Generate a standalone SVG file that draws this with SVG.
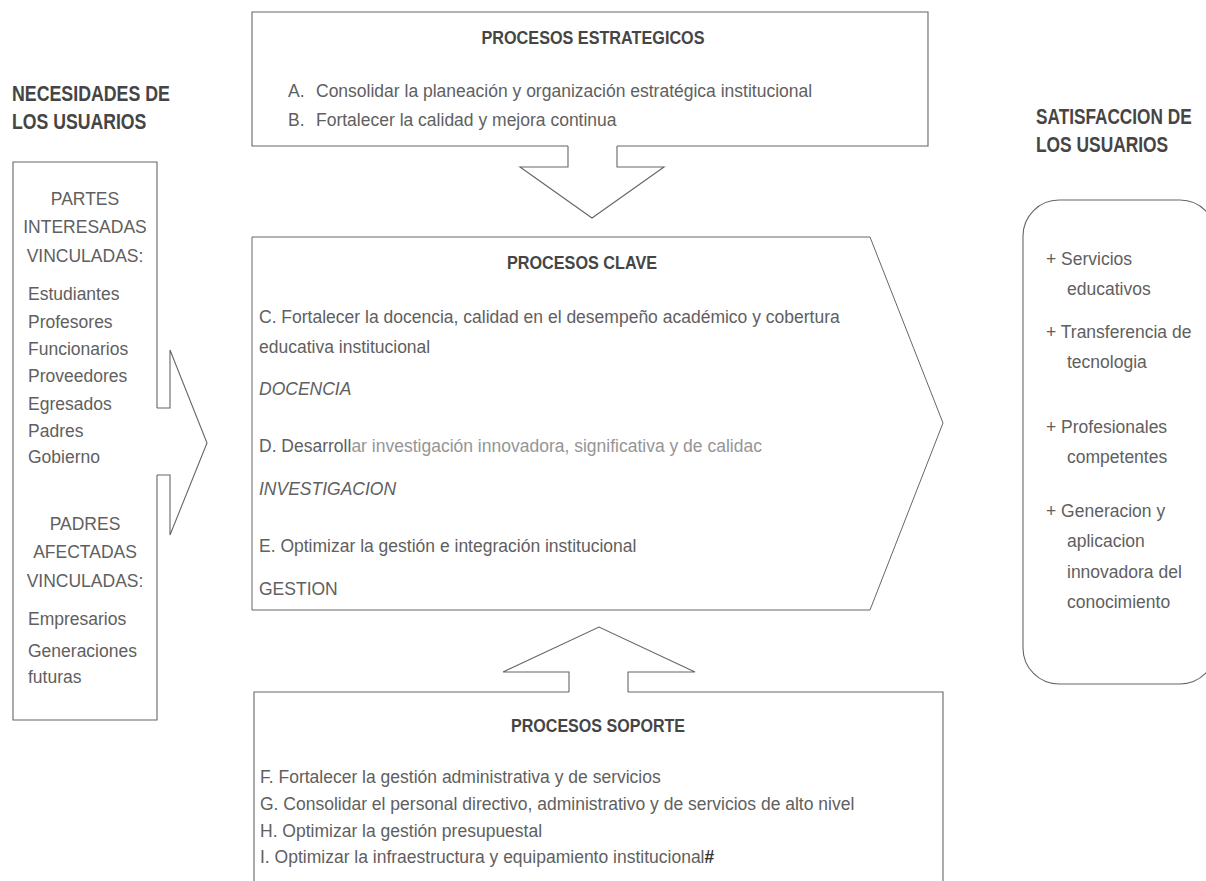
<svg xmlns="http://www.w3.org/2000/svg" width="1206" height="881" viewBox="0 0 1206 881">
<style>
.bg{fill:#ffffff}
.box{fill:#ffffff;stroke:#666666;stroke-width:1.1}
.thin{fill:#ffffff;stroke:#555555;stroke-width:0.9}
.hd{font-family:"Liberation Sans",Arial,sans-serif;font-weight:bold;fill:#454545;font-size:22px}
.ht{font-family:"Liberation Sans",Arial,sans-serif;font-weight:bold;fill:#454545;font-size:19px}
.t{font-family:"Liberation Sans",Arial,sans-serif;fill:#606060;font-size:17.5px}
.c{text-anchor:middle}
.it{font-style:italic}
.lt{fill:#959595}
.sh{font-weight:bold;fill:#333333}
</style>
<rect class="bg" x="0" y="0" width="1206" height="881"/>

<g id="connectors">
  <path id="arrow-down" class="box" d="M568,146 V167 H520 L592,218 L664,167 H617 V146"/>
  <path id="arrow-up" class="box" d="M569,692 V672 H503 L599,627 L695,672 H628 V692"/>
  <path id="arrow-right" class="box" d="M157,408 H170 V350 L207,443 L170,535 V475 H157"/>
</g>

<g id="necesidades">
  <text class="hd" transform="translate(12,101) scale(0.808,1)">NECESIDADES DE</text>
  <text class="hd" transform="translate(12,129) scale(0.802,1)">LOS USUARIOS</text>
</g>

<g id="partes">
  <path class="box" d="M157,408 V162 H13 V720 H157 V475"/>
  <text class="t c" x="85" y="205">PARTES</text>
  <text class="t c" x="85" y="233">INTERESADAS</text>
  <text class="t c" x="85" y="262">VINCULADAS:</text>
  <text class="t" x="28" y="300">Estudiantes</text>
  <text class="t" x="28" y="328">Profesores</text>
  <text class="t" x="28" y="355">Funcionarios</text>
  <text class="t" x="28" y="382">Proveedores</text>
  <text class="t" x="28" y="410">Egresados</text>
  <text class="t" x="28" y="437">Padres</text>
  <text class="t" x="28" y="463">Gobierno</text>
  <text class="t c" x="85" y="530">PADRES</text>
  <text class="t c" x="85" y="558">AFECTADAS</text>
  <text class="t c" x="85" y="587">VINCULADAS:</text>
  <text class="t" x="28" y="625">Empresarios</text>
  <text class="t" x="28" y="657">Generaciones</text>
  <text class="t" x="28" y="683">futuras</text>
</g>

<g id="estrategicos">
  <path class="box" d="M568,146 H252 V12 H928 V146 H617"/>
  <text class="ht c" x="593" y="44" textLength="223" lengthAdjust="spacingAndGlyphs">PROCESOS ESTRATEGICOS</text>
  <text class="t" x="288" y="97">A.</text>
  <text class="t" x="316" y="97">Consolidar la planeación y organización estratégica institucional</text>
  <text class="t" x="288" y="126">B.</text>
  <text class="t" x="316" y="126">Fortalecer la calidad y mejora continua</text>
</g>

<g id="clave">
  <path class="thin" d="M252,237 H870 L943,423 L870,610 H252 Z"/>
  <text class="ht c" x="582" y="269" textLength="150" lengthAdjust="spacingAndGlyphs">PROCESOS CLAVE</text>
  <text class="t" x="259" y="323">C. Fortalecer la docencia, calidad en el desempeño académico y cobertura</text>
  <text class="t" x="259" y="353">educativa institucional</text>
  <text class="t it" x="259" y="395">DOCENCIA</text>
  <text class="t" x="259" y="452">D. Desarroll<tspan class="lt">ar investigación innovadora, significativa y de calidac</tspan></text>
  <text class="t it" x="259" y="495">INVESTIGACION</text>
  <text class="t" x="259" y="552">E. Optimizar la gestión e integración institucional</text>
  <text class="t" x="259" y="595">GESTION</text>
</g>

<g id="soporte">
  <path class="box" d="M569,692 H254 V895 H943 V692 H628"/>
  <text class="ht c" x="598" y="732" textLength="174" lengthAdjust="spacingAndGlyphs">PROCESOS SOPORTE</text>
  <text class="t" x="260" y="783">F. Fortalecer la gestión administrativa y de servicios</text>
  <text class="t" x="260" y="810">G. Consolidar el personal directivo, administrativo y de servicios de alto nivel</text>
  <text class="t" x="260" y="837">H. Optimizar la gestión presupuestal</text>
  <text class="t" x="260" y="863">I. Optimizar la infraestructura y equipamiento institucional<tspan class="sh">#</tspan></text>
</g>

<g id="satisfaccion">
  <text class="hd" transform="translate(1036,124) scale(0.783,1)">SATISFACCION DE</text>
  <text class="hd" transform="translate(1036,152) scale(0.79,1)">LOS USUARIOS</text>
</g>

<g id="resultados">
  <path class="box" d="M1059,200 H1180 A36,36 0 0 1 1216,236 V648 A36,36 0 0 1 1180,684 H1059 A36,36 0 0 1 1023,648 V236 A36,36 0 0 1 1059,200 Z"/>
  <text class="t" x="1046" y="265">+ Servicios</text>
  <text class="t" x="1067" y="295">educativos</text>
  <text class="t" x="1046" y="338">+ Transferencia de</text>
  <text class="t" x="1067" y="368">tecnologia</text>
  <text class="t" x="1046" y="433">+ Profesionales</text>
  <text class="t" x="1067" y="463">competentes</text>
  <text class="t" x="1046" y="517">+ Generacion y</text>
  <text class="t" x="1067" y="547">aplicacion</text>
  <text class="t" x="1067" y="578">innovadora del</text>
  <text class="t" x="1067" y="608">conocimiento</text>
</g>
</svg>
